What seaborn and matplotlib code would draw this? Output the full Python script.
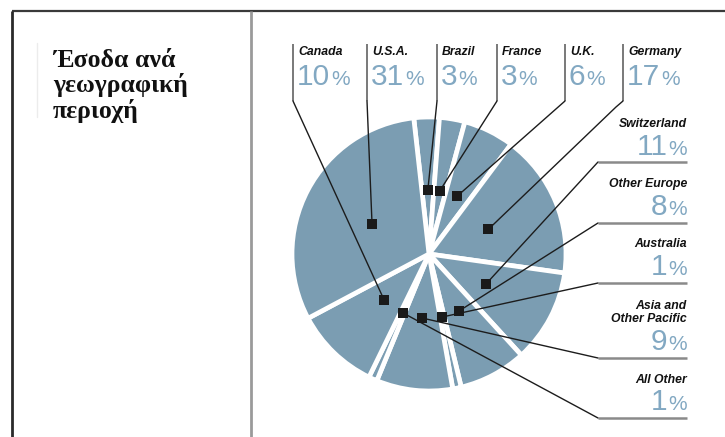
import numpy as np
import matplotlib
matplotlib.use("Agg")
import matplotlib.pyplot as plt
import seaborn as sns
import pandas as pd

# Revenue share by region, in the order the wedges run clockwise
regions = ["Brazil", "France", "U.K.", "Germany", "Switzerland", "Other Europe",
           "Australia", "Asia and\nOther Pacific", "All Other", "Canada", "U.S.A."]
shares = [3, 3, 6, 17, 11, 8, 1, 9, 1, 10, 31]

# Labels along the top (left to right) and down the right side (top to bottom)
top_labels = ["Canada", "U.S.A.", "Brazil", "France", "U.K.", "Germany"]
side_labels = ["Switzerland", "Other Europe", "Australia", "Asia and\nOther Pacific", "All Other"]

title_lines = ["Έσοδα ανά", "γεωγραφική", "περιοχή"]

W, H = 725, 437
PIE = "#7b9db2"
PCT = "#82a8c2"
INK = "#1c1c1c"

sns.set_theme(style="white")
plt.rcParams["font.family"] = ["Liberation Sans", "DejaVu Sans"]

fig = plt.figure(figsize=(W / 100, H / 100), dpi=100)
ax = fig.add_axes([0, 0, 1, 1])


def Y(y):
    # page layout is measured from the top edge
    return H - y


cx, cy, R = 429, Y(254), 137
ax.pie(shares, startangle=96.4, counterclock=False, colors=[PIE] * len(shares),
       radius=R, center=(cx, cy),
       wedgeprops=dict(edgecolor="white", linewidth=3.4))
ax.set_xlim(0, W)
ax.set_ylim(0, H)
ax.set_aspect("auto")
ax.axis("off")

# marker inside each wedge, at its middle angle
cum = np.cumsum([0] + shares)
mid = 96.4 - 3.6 * (cum[:-1] + cum[1:]) / 2
rad = np.deg2rad(mid)
pts = pd.DataFrame({
    "region": regions,
    "x": cx + 0.47 * R * np.cos(rad),
    "y": cy + 0.47 * R * np.sin(rad),
})
pos = {r: (x, y) for r, x, y in zip(pts.region, pts.x, pts.y)}

# leader lines: label stem, then a straight run into the wedge
top_x = [293, 367, 437, 497, 565, 623]
for name, lx in zip(top_labels, top_x):
    mx, my = pos[name]
    bend = Y(101)
    ax.plot([lx, lx], [Y(44), bend], color="#6e6e6e", lw=1.3, solid_capstyle="butt", zorder=3)
    if name == "Germany":
        ax.plot([lx, lx - 7, mx], [bend, Y(107), my], color=INK, lw=1.0, zorder=3)
    else:
        ax.plot([lx, mx], [bend, my], color=INK, lw=1.0, zorder=3)

side_y = [162, 223, 283, 358, 418]
for name, ly in zip(side_labels, side_y):
    mx, my = pos[name]
    ax.plot([687, 598], [Y(ly), Y(ly)], color="#8a8a8a", lw=1.8, solid_capstyle="butt", zorder=3)
    ax.plot([598, mx], [Y(ly), my], color=INK, lw=1.0, zorder=3)

sns.scatterplot(data=pts, x="x", y="y", marker="s", s=52, color="#1a1a1a",
                edgecolor="none", ax=ax, zorder=5, legend=False)
ax.set_xlim(0, W)
ax.set_ylim(0, H)
ax.axis("off")

fig.canvas.draw()
renderer = fig.canvas.get_renderer()
share_of = dict(zip(regions, shares))

NAME_KW = dict(fontsize=8.8, fontstyle="italic", fontweight="bold", color="#111111")
DIG_KW = dict(fontsize=21.5, color=PCT, va="baseline")
SIGN_KW = dict(fontsize=15, color=PCT, va="baseline")


def width_px(t):
    return t.get_window_extent(renderer).width


# top labels
for name, lx in zip(top_labels, top_x):
    tx = lx + 5
    ax.text(tx, Y(55), name, ha="left", va="baseline", **NAME_KW)
    d = ax.text(tx - 1, Y(85), str(share_of[name]), ha="left", **DIG_KW)
    ax.text(tx - 1 + width_px(d) + 1, Y(85), "%", ha="left", **SIGN_KW)

# right-hand labels
name_base = [127, 187, 247, 322, 383]
pct_base = [155, 215, 275, 350, 410]
for name, nb, pb in zip(side_labels, name_base, pct_base):
    ax.text(687, Y(nb), name, ha="right", va="baseline", linespacing=1.15, **NAME_KW)
    s = ax.text(687, Y(pb), "%", ha="right", **SIGN_KW)
    ax.text(687 - width_px(s) - 1, Y(pb), str(share_of[name]), ha="right", **DIG_KW)

# title panel
for line, b in zip(title_lines, [67, 92, 118]):
    ax.text(53, Y(b), line, ha="left", va="baseline", fontsize=18.5, fontweight="bold",
            color="#111111", family=["Liberation Serif", "DejaVu Serif"])

# frame: top rule, left rule, panel divider, faint guide
ax.plot([12, W], [Y(11), Y(11)], color="#3a3a3a", lw=1.6, solid_capstyle="butt")
ax.plot([12.5, 12.5], [Y(11), 0], color="#2a2a2a", lw=2.0, solid_capstyle="butt")
ax.plot([251, 251], [Y(11), 0], color="#9a9a9a", lw=2.0, solid_capstyle="butt")
ax.plot([37, 37], [Y(43), Y(117)], color="#ececec", lw=1.0)

fig.savefig("out.png", dpi=100, facecolor="white")
